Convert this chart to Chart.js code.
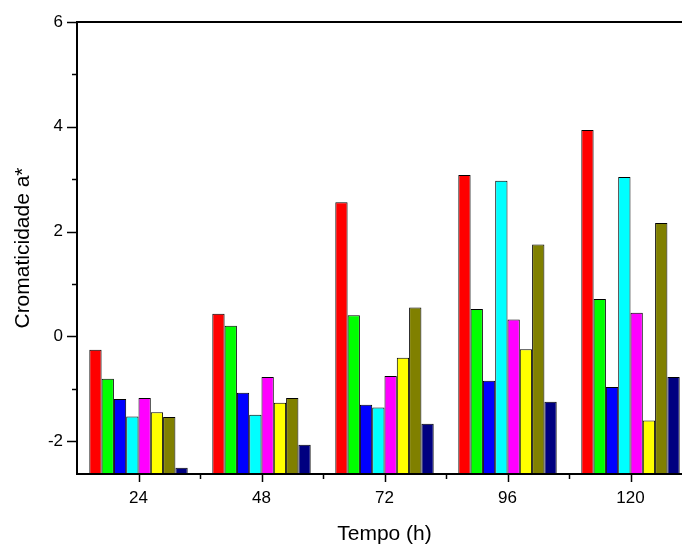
<!DOCTYPE html>
<html>
<head>
<meta charset="utf-8">
<script src="https://cdn.jsdelivr.net/npm/chart.js@4"></script>
<style>
  html, body { margin: 0; padding: 0; background: #fff; overflow: hidden; }
  #wrap { width: 720px; height: 547px; }
</style>
</head>
<body>
<div id="wrap"><canvas id="c" width="720" height="547"></canvas></div>
<script>
const categories = ['24', '48', '72', '96', '120'];
const serieRed     = [-0.26, 0.43, 2.56, 3.08, 3.94];
const serieGreen   = [-0.81, 0.20, 0.40, 0.52, 0.71];
const serieBlue    = [-1.20, -1.08, -1.31, -0.85, -0.97];
const serieCyan    = [-1.53, -1.50, -1.36, 2.97, 3.04];
const serieMagenta = [-1.18, -0.78, -0.76, 0.32, 0.45];
const serieYellow  = [-1.45, -1.27, -0.41, -0.25, -1.61];
const serieOlive   = [-1.54, -1.18, 0.55, 1.75, 2.16];
const serieNavy    = [-2.51, -2.07, -1.67, -1.25, -0.78];
const yTickLabels  = [-2, 0, 2, 4, 6];
const yMin = -2.63, yMax = 6;

const seriesList = [
  ['1', serieRed, '#FF0000'],
  ['2', serieGreen, '#00FF00'],
  ['3', serieBlue, '#0000FF'],
  ['4', serieCyan, '#00FFFF'],
  ['5', serieMagenta, '#FF00FF'],
  ['6', serieYellow, '#FFFF00'],
  ['7', serieOlive, '#808000'],
  ['8', serieNavy, '#000080']
];

const FONT = "'Liberation Sans', Arial, sans-serif";

const axisTicks = {
  id: 'axisTicks',
  afterDraw(chart) {
    const ctx = chart.ctx;
    const area = chart.chartArea;
    const ys = chart.scales.y, xs = chart.scales.x;
    ctx.save();
    ctx.strokeStyle = '#000';
    ctx.lineWidth = 1.5;
    for (let v = Math.ceil(yMin); v <= yMax; v++) {
      const py = Math.round(ys.getPixelForValue(v)) + 0.5;
      const len = (v % 2 === 0) ? 10 : 5;
      ctx.beginPath();
      ctx.moveTo(area.left - len, py);
      ctx.lineTo(area.left, py);
      ctx.stroke();
    }
    const step = xs.getPixelForValue(1) - xs.getPixelForValue(0);
    for (let i = 0; i < categories.length; i++) {
      const px = Math.round(xs.getPixelForValue(i)) + 0.5;
      ctx.beginPath();
      ctx.moveTo(px, area.bottom);
      ctx.lineTo(px, area.bottom + 8);
      ctx.stroke();
      const bx = Math.round(xs.getPixelForValue(i) + step / 2) + 0.5;
      ctx.beginPath();
      ctx.moveTo(bx, area.bottom);
      ctx.lineTo(bx, area.bottom + 5);
      ctx.stroke();
    }
    ctx.lineWidth = 2;
    ctx.beginPath();
    ctx.moveTo(area.left, area.top);
    ctx.lineTo(area.right, area.top);
    ctx.stroke();
    ctx.restore();
  }
};

new Chart(document.getElementById('c'), {
  type: 'bar',
  data: {
    labels: categories,
    datasets: seriesList.map(([name, vals, color]) => ({
      label: name,
      data: vals,
      base: yMin,
      backgroundColor: color,
      borderColor: '#000',
      borderWidth: 1,
      borderSkipped: false,
      categoryPercentage: 0.8,
      barPercentage: 1.0
    }))
  },
  options: {
    responsive: false,
    animation: false,
    layout: { padding: { top: 22, right: 28, left: 0, bottom: 0 } },
    plugins: { legend: { display: false }, tooltip: { enabled: false } },
    scales: {
      x: {
        grid: { display: false },
        border: { display: true, color: '#000', width: 2 },
        ticks: { color: '#000', font: { family: FONT, size: 17 }, padding: 6, maxRotation: 0 },
        title: { display: true, text: 'Tempo (h)', color: '#000', font: { family: FONT, size: 21 }, padding: { top: 0, bottom: 0 } },
        afterFit(scale) { scale.height = 73; }
      },
      y: {
        min: yMin,
        max: yMax,
        grid: { display: false },
        border: { display: true, color: '#000', width: 2 },
        afterBuildTicks(scale) { scale.ticks = yTickLabels.map(v => ({ value: v })); },
        ticks: { color: '#000', font: { family: FONT, size: 17 }, padding: 6 },
        title: { display: true, text: 'Cromaticidade a*', color: '#000', font: { family: FONT, size: 21 }, padding: { top: 11, bottom: 0 } },
        afterFit(scale) { scale.width = 77; }
      }
    }
  },
  plugins: [axisTicks]
});
</script>
</body>
</html>
